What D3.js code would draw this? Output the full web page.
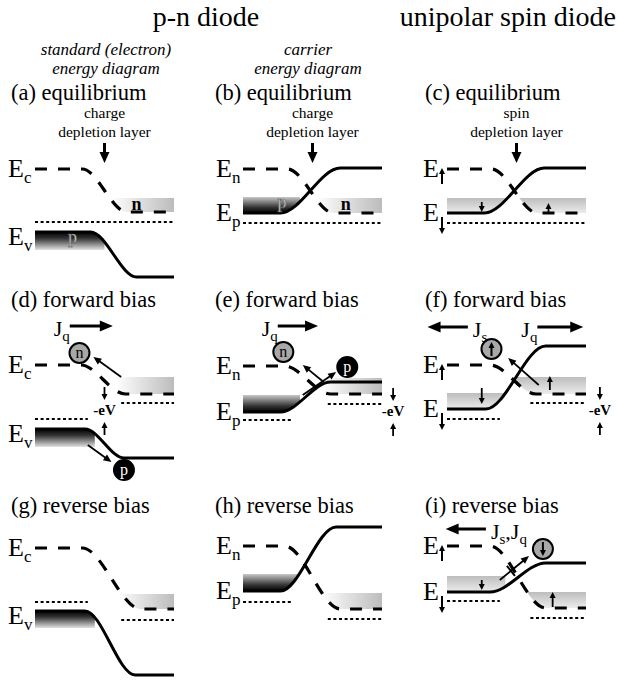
<!DOCTYPE html>
<html>
<head>
<meta charset="utf-8">
<script src="https://cdn.jsdelivr.net/npm/d3@7"></script>
<style>
  body { margin: 0; background: #fff; }
  text { font-family: "Liberation Serif", "Times New Roman", serif; fill: #000; }
</style>
</head>
<body>
<svg id="chart" width="618" height="681"></svg>
<script>
// panel order: a b c / d e f / g h i
var titles = ["(a) equilibrium", "(b) equilibrium", "(c) equilibrium",
              "(d) forward bias", "(e) forward bias", "(f) forward bias",
              "(g) reverse bias", "(h) reverse bias", "(i) reverse bias"];

// band edges, [x (0-100 across the panel), energy offset below the title]
var dashedBand = [
  [[0, 69], [34, 69], [66, 112], [100, 112]],
  [[0, 69], [32, 69], [65, 113], [100, 113]],
  [[0, 69], [32, 69], [65, 113], [100, 113]],
  [[0, 58], [33, 58], [65, 87], [100, 87]],
  [[0, 59], [30, 59], [63, 87], [100, 87]],
  [[0, 58], [31, 58], [64, 87], [100, 87]],
  [[0, 35], [34, 35], [76, 96], [100, 96]],
  [[0, 33], [30, 33], [70, 96], [100, 96]],
  [[0, 33], [31, 33], [71, 95], [100, 95]]
];
var solidBand = [
  [[0, 132], [40, 132], [73, 177], [100, 177]],
  [[0, 113], [27, 113], [70, 68], [100, 68]],
  [[0, 113], [27, 113], [70, 68], [100, 68]],
  [[0, 122], [36, 122], [64, 151], [100, 151]],
  [[0, 105], [27, 105], [63, 75], [100, 75]],
  [[0, 102], [28, 102], [71, 39], [100, 39]],
  [[0, 98], [36, 98], [72, 162], [100, 162]],
  [[0, 78], [27, 78], [67, 14], [100, 14]],
  [[0, 79], [31, 79], [71, 50], [100, 50]]
];
// dotted (Fermi) levels: [x1, x2, level]
var fermiLevels = [
  [[0, 99, 122]], [[0, 100, 123]], [[0, 100, 123]],
  [[0, 38, 112], [62, 100, 96]], [[0, 36, 113], [61, 100, 97]], [[0, 38, 112], [60, 100, 96]],
  [[0, 38, 89], [62, 100, 107]], [[0, 36, 89], [61, 100, 106]], [[0, 38, 88], [60, 100, 105]]
];
var bandNames = [["c", "v"], ["n", "p"], ["up", "down"]];
// carrier pockets: [panel, band, side of band, x1, x2, far edge, tone]
var pockets = [
  [0, "d", "above", 54, 100, 98, "light"], [0, "s", "below", 0, 50, 150, "dark"],
  [1, "d", "above", 52, 100, 98, "light"], [1, "s", "above", 0, 41, 97, "dark"],
  [2, "s", "above", 0, 60, 98, "light"],   [2, "d", "above", 40, 100, 98, "light"],
  [3, "d", "above", 58, 100, 70, "light"], [3, "s", "below", 0, 43, 140, "dark"],
  [4, "s", "above", 0, 41, 88, "dark"],    [4, "d", "above", 56, 100, 71, "light"],
  [5, "s", "above", 0, 46, 86, "light"],   [5, "d", "above", 50, 100, 70, "light"],
  [6, "d", "above", 58, 100, 81, "light"], [6, "s", "below", 0, 43, 115, "dark"],
  [7, "s", "above", 0, 41, 61, "dark"],    [7, "d", "above", 56, 100, 80, "light"],
  [8, "s", "above", 0, 42, 63, "light"],   [8, "d", "above", 53, 100, 79, "light"]
];
var pocketLabels = [[0, "p", 27, 143, "p"], [0, "n", 73, 110, "n"], [1, "p", 28, 108, "p"], [1, "n", 74, 110, "n"]];
var spinArrows = [[2, 25, 102, 112], [2, 73, 112, 103], [5, 25, 81, 97], [5, 74, 83, 69], [8, 25, 67, 77], [8, 76, 94, 79]];
var carrierArrows = [[3, 62, 70, 42, 50], [3, 38, 138, 55, 155], [4, 58, 75, 43, 58], [4, 43, 88, 67, 65], [5, 66, 78, 44, 51], [8, 38, 67, 59, 43]];
var carriers = [[3, 32, 46, "n"], [3, 64, 163, "p"], [4, 29, 45, "n"], [4, 75, 60, "p"], [5, 32, 42, "up"], [8, 69, 36, "down"]];
var currents = [[3, 25, 56, 19, ["q"]], [4, 25, 54, 19, ["q"]], [5, 15, -14, 20, ["s"]], [5, 65, 98, 20, ["q"]], [8, 28, -1, 16, ["s", "q"]]];
var biasMarks = [[3, 50], [4, 108], [5, 110]];
var depletionNotes = [[0, "charge"], [1, "charge"], [2, "spin"]];

var colX = [35, 243, 447];
var rowY = [100, 307, 513];
var titleX = [11, 215, 425];
var xs = colX.map(function(x0) { return d3.scaleLinear().domain([0, 100]).range([x0, x0 + 139]); });
var ys = rowY.map(function(y0) { return d3.scaleLinear().domain([0, 200]).range([y0, y0 + 200]); });
function sx(p) { return xs[p % 3]; }
function sy(p) { return ys[Math.floor(p / 3)]; }

var svg = d3.select("#chart");
var defs = svg.append("defs");

function grad(id, x2, y2, stops) {
  var g = defs.append("linearGradient").attr("id", id)
    .attr("x1", 0).attr("y1", 0).attr("x2", x2).attr("y2", y2);
  stops.forEach(function(s) { g.append("stop").attr("offset", s[0]).attr("stop-color", s[1]); });
}
grad("darkDown", 0, 1, [[0, "#000"], [0.35, "#333"], [1, "#e2e2e2"]]);
grad("darkUp", 0, 1, [[0, "#c8c8c8"], [0.65, "#333"], [1, "#000"]]);
grad("lightH", 1, 0, [[0, "#fff"], [1, "#bcbcbc"]]);
grad("lightV", 0, 1, [[0, "#bdbdbd"], [1, "#ececec"]]);

function arrow(g, x1, y1, x2, y2, w, len, wid) {
  var dx = x2 - x1, dy = y2 - y1, L = Math.sqrt(dx * dx + dy * dy);
  var ux = dx / L, uy = dy / L;
  var bx = x2 - ux * len, by = y2 - uy * len;
  g.append("line").attr("x1", x1).attr("y1", y1).attr("x2", bx + ux).attr("y2", by + uy)
    .attr("stroke", "#000").attr("stroke-width", w);
  g.append("polygon")
    .attr("points", [[x2, y2], [bx - uy * wid / 2, by + ux * wid / 2], [bx + uy * wid / 2, by - ux * wid / 2]].join(" "))
    .attr("fill", "#000");
}

// headers
svg.append("text").attr("x", 206).attr("y", 26).attr("text-anchor", "middle")
  .style("font-size", "28px").text("p-n diode");
svg.append("text").attr("x", 616).attr("y", 26).attr("text-anchor", "end")
  .style("font-size", "28px").text("unipolar spin diode");
[[106, 55, "standard (electron)"], [106, 74, "energy diagram"], [308, 55, "carrier"], [308, 74, "energy diagram"]]
  .forEach(function(t) {
    svg.append("text").attr("x", t[0]).attr("y", t[1]).attr("text-anchor", "middle")
      .style("font-size", "17px").style("font-style", "italic").text(t[2]);
  });

titles.forEach(function(t, p) {
  svg.append("text").attr("x", titleX[p % 3]).attr("y", rowY[Math.floor(p / 3)])
    .style("font-size", "22.5px").text(t);
});

// pockets
var pocketLayer = svg.append("g");
pockets.forEach(function(d, i) {
  var p = d[0], x = sx(p), y = sy(p);
  var pts = (d[1] === "d" ? dashedBand : solidBand)[p];
  var lv = pts.map(function(q) { return q[1]; });
  var clip = d3.area().curve(d3.curveMonotoneX)
    .x(function(q) { return x(q[0]); })
    .y0(d[2] === "above" ? y(-100) : y(300))
    .y1(function(q) { return y(q[1]); });
  defs.append("clipPath").attr("id", "clip" + i).append("path").attr("d", clip(pts));
  var top = d[2] === "above" ? d[5] : d3.min(lv);
  var bot = d[2] === "above" ? d3.max(lv) : d[5];
  var fill = d[6] === "dark" ? (d[2] === "above" ? "url(#darkUp)" : "url(#darkDown)")
                             : (p % 3 === 2 ? "url(#lightV)" : "url(#lightH)");
  pocketLayer.append("rect").attr("clip-path", "url(#clip" + i + ")")
    .attr("x", x(d[3])).attr("width", x(d[4]) - x(d[3]))
    .attr("y", y(top)).attr("height", y(bot) - y(top))
    .attr("fill", fill);
});

// band lines
var bands = svg.append("g").attr("fill", "none").attr("stroke", "#000");
titles.forEach(function(t, p) {
  var x = sx(p), y = sy(p);
  var line = d3.line().curve(d3.curveMonotoneX)
    .x(function(q) { return x(q[0]); }).y(function(q) { return y(q[1]); });
  fermiLevels[p].forEach(function(f) {
    bands.append("line").attr("x1", x(f[0])).attr("x2", x(f[1]))
      .attr("y1", y(f[2])).attr("y2", y(f[2]))
      .attr("stroke-width", 2.2).attr("stroke-dasharray", "3,2.6");
  });
  bands.append("path").attr("d", line(dashedBand[p]))
    .attr("stroke-width", 3.2).attr("stroke-dasharray", "12,11");
  bands.append("path").attr("d", line(solidBand[p])).attr("stroke-width", 3);

  // E labels
  var names = bandNames[p % 3];
  var ex = colX[p % 3] - (p % 3 === 2 ? 24 : 27);
  [[dashedBand[p][0][1], names[0]], [solidBand[p][0][1], names[1]]].forEach(function(lb) {
    var base = y(lb[0]) + (lb[1] === "v" ? 13 : 8);
    if (lb[1] === "up" || lb[1] === "down") {
      svg.append("text").attr("x", ex).attr("y", base).style("font-size", "26px").text("E");
      if (lb[1] === "up") arrow(svg, ex + 19, base + 7, ex + 19, base - 9, 2, 6, 6);
      else arrow(svg, ex + 19, base - 4, ex + 19, base + 13, 2, 6, 6);
    } else {
      var tx = svg.append("text").attr("x", ex).attr("y", base).style("font-size", "26px");
      tx.append("tspan").text("E");
      tx.append("tspan").attr("dy", 6).style("font-size", "17px").text(lb[1]);
    }
  });
});

// pocket labels
pocketLabels.forEach(function(d) {
  var x = sx(d[0]), y = sy(d[0]);
  var t = svg.append("text").attr("x", x(d[2])).attr("y", y(d[3])).attr("text-anchor", "middle")
    .style("font-size", "18px").text(d[1]);
  if (d[4] === "p") t.style("fill", "#e8e8e8").attr("stroke", "#555").attr("stroke-width", 0.6);
  else t.style("font-weight", "bold");
});

// depletion layer notes
depletionNotes.forEach(function(d) {
  var x = sx(d[0]), y = sy(d[0]), cx = x(50);
  svg.append("text").attr("x", cx).attr("y", y(18)).attr("text-anchor", "middle")
    .style("font-size", "15.5px").text(d[1]);
  svg.append("text").attr("x", cx).attr("y", y(37)).attr("text-anchor", "middle")
    .style("font-size", "15.5px").text("depletion layer");
  arrow(svg, cx, y(43), cx, y(63), 3, 11, 10);
});

// spin arrows inside pockets
spinArrows.forEach(function(d) {
  var x = sx(d[0]), y = sy(d[0]);
  arrow(svg, x(d[1]), y(d[2]), x(d[1]), y(d[3]), 1.8, 6, 6);
});

// carrier arrows
carrierArrows.forEach(function(d) {
  var x = sx(d[0]), y = sy(d[0]);
  arrow(svg, x(d[1]), y(d[2]), x(d[3]), y(d[4]), 1.8, 8, 7);
});
// tick across the tunnelling arrow in (i)
(function() {
  var d = carrierArrows[5], x = sx(d[0]), y = sy(d[0]);
  var mx = x(d[1]) + (x(d[3]) - x(d[1])) * 0.38, my = y(d[2]) + (y(d[4]) - y(d[2])) * 0.38;
  svg.append("line").attr("x1", mx - 4).attr("y1", my - 5).attr("x2", mx + 4).attr("y2", my + 5)
    .attr("stroke", "#000").attr("stroke-width", 2);
})();

// carriers
carriers.forEach(function(d) {
  var x = sx(d[0]), y = sy(d[0]), cx = x(d[1]), cy = y(d[2]);
  var dark = d[3] === "p";
  svg.append("circle").attr("cx", cx).attr("cy", cy).attr("r", 10)
    .attr("fill", dark ? "#000" : "#a8a8a8").attr("stroke", "#000").attr("stroke-width", 2);
  if (d[3] === "up") arrow(svg, cx, cy + 7, cx, cy - 7, 2, 6, 6);
  else if (d[3] === "down") arrow(svg, cx, cy - 7, cx, cy + 7, 2, 6, 6);
  else svg.append("text").attr("x", cx).attr("y", cy + 5).attr("text-anchor", "middle")
    .style("font-size", "16px").style("fill", dark ? "#fff" : "#000").text(d[3]);
});

// currents
currents.forEach(function(d) {
  var x = sx(d[0]), y = sy(d[0]);
  var x1 = x(d[1]), x2 = x(d[2]), yy = y(d[3]);
  arrow(svg, x1, yy, x2, yy, 3, 13, 11);
  var lx = x2 < x1 ? x1 + 5 : x1 - 16;
  var t = svg.append("text").attr("x", lx).attr("y", yy + 10).style("font-size", "22px");
  d[4].forEach(function(s, k) {
    if (k > 0) t.append("tspan").attr("dy", -5).style("font-size", "22px").text(",");
    t.append("tspan").style("font-size", "22px").text("J");
    t.append("tspan").attr("dy", 5).style("font-size", "15px").text(s);
  });
});

// applied bias -eV
biasMarks.forEach(function(d) {
  var x = sx(d[0]), y = sy(d[0]), cx = x(d[1]);
  var lv = fermiLevels[d[0]];
  var hi = y(lv[1][2]), lo = y(lv[0][2]);
  arrow(svg, cx, hi - 16, cx, hi - 3, 1.8, 6, 6);
  arrow(svg, cx, lo + 16, cx, lo + 3, 1.8, 6, 6);
  svg.append("text").attr("x", cx).attr("y", (hi + lo) / 2 + 4).attr("text-anchor", "middle")
    .style("font-size", "15px").style("font-weight", "bold").text("-eV");
});
</script>
</body>
</html>
